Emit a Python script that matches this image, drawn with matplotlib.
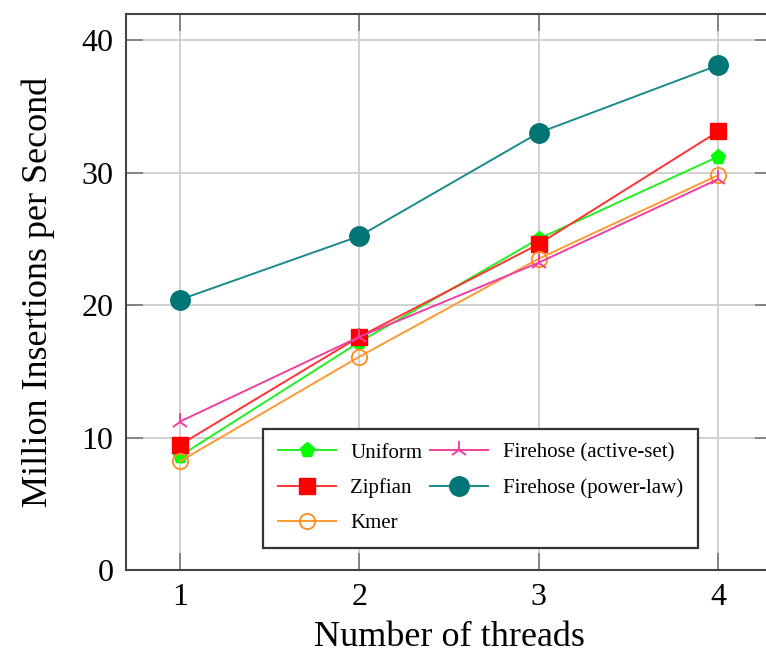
import matplotlib
matplotlib.use("Agg")
import matplotlib.pyplot as plt

# data
threads = [1, 2, 3, 4]
uniform = [8.6, 17.2, 25.0, 31.2]
zipfian = [9.45, 17.6, 24.6, 33.1]
kmer = [8.2, 16.1, 23.5, 29.8]
active_set = [11.2, 17.6, 23.2, 29.5]
power_law = [20.4, 25.2, 33.0, 38.1]
yticks = [0, 10, 20, 30, 40]

plt.rcParams['font.family'] = ['Liberation Serif', 'DejaVu Serif']

fig = plt.figure(figsize=(7.66, 6.58), dpi=100)
ax = fig.add_axes([0.1645, 0.1337, 0.8433, 0.8457])

# series styles
ax.plot(threads, uniform, color='#22ee22', lw=1.4, marker='p', ms=11,
        mec='#00ff00', mfc='#00ff00', label='Uniform', zorder=3)
ax.plot(threads, zipfian, color='#ff3333', lw=1.4, marker='s', ms=12,
        mec='#ff0000', mfc='#ff0000', label='Zipfian', zorder=3)
ax.plot(threads, kmer, color='#ff9933', lw=1.4, marker='o', ms=11,
        mfc='none', mec='#ff8c1a', mew=1.3, label='Kmer', zorder=3)
ax.plot(threads, active_set, color='#f0409f', lw=1.4, marker='2', ms=13,
        mew=1.4, mec='#f0409f', label='Firehose (active-set)', zorder=3)
ax.plot(threads, power_law, color='#1a8a8a', lw=1.4, marker='o', ms=14,
        mec='#007575', mfc='#007575', label='Firehose (power-law)', zorder=3)

ax.set_xlim(0.7, 4.3)
ax.set_ylim(0, 42)
ax.set_xticks(threads)
ax.set_yticks(yticks)
ax.grid(True, color='#d0d0d0', lw=1.4)
ax.set_axisbelow(True)
ax.tick_params(direction='in', length=12, width=1.2, color='#777777',
               labelsize=23, top=True, right=True, pad=9)
for s in ax.spines.values():
    s.set_color('#444444')
    s.set_linewidth(1.5)

ax.set_xlabel('Number of threads', fontsize=26, labelpad=7)
ax.set_ylabel('Million Insertions per Second', fontsize=26, labelpad=19)

leg = ax.legend(ncol=2, loc='lower left', bbox_to_anchor=(0.212, 0.0395, 0.673, 0.22),
                mode='expand', borderaxespad=0, fontsize=15, frameon=True,
                fancybox=False, edgecolor='#333333', handlelength=2.8,
                handletextpad=0.7, columnspacing=0.5, labelspacing=0.75,
                borderpad=0.7)
leg.get_frame().set_linewidth(1.6)
leg.get_frame().set_alpha(1)

fig.savefig('out.png', dpi=100)
